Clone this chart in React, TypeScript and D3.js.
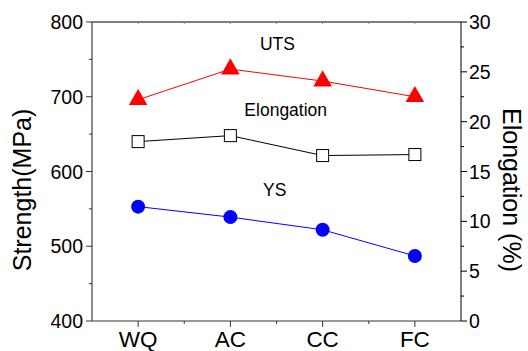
import React from "react";
import * as d3 from "d3";

const categories = ["WQ", "AC", "CC", "FC"];
const utsValues = [696, 737, 721, 700];
const ysValues = [553, 539, 522, 487];
const elongValues = [18.0, 18.6, 16.6, 16.7];
const leftTicks = [400, 500, 600, 700, 800];
const leftMinor = [450, 550, 650, 750];
const rightTicks = [0, 5, 10, 15, 20, 25, 30];
const rightMinor = [2.5, 7.5, 12.5, 17.5, 22.5, 27.5];
const seriesLabels = [
  { text: "UTS", x: 1.51, v: 762.5 },
  { text: "Elongation", x: 1.6, v: 674.5 },
  { text: "YS", x: 1.48, v: 567.5 },
];

const W = 528, H = 351;
const L = 92, R = 461, T = 22, B = 321;
const font = "Arial, 'Liberation Sans', Helvetica, sans-serif";

export default function App() {
  const x = d3.scaleLinear().domain([-0.5, 3.5]).range([L, R]);
  const yL = d3.scaleLinear().domain([400, 800]).range([B, T]);
  const yR = d3.scaleLinear().domain([0, 30]).range([B, T]);
  const line = (ys: number[], sc: d3.ScaleLinear<number, number>) =>
    d3.line<number>().x((_, i) => x(i)).y((d) => sc(d))(ys) || "";
  const tri = d3.symbol().type(d3.symbolTriangle).size(150)();
  const idx = categories.map((_, i) => i);
  const halves = [0.5, 1.5, 2.5];

  return (
    <svg width={W} height={H} style={{ position: "absolute", left: 0, top: 0 }} fontFamily={font}>
      <rect width={W} height={H} fill="#fff" />
      {/* axes */}
      <line x1={L} x2={R} y1={T} y2={T} stroke="#000" strokeWidth={1} />
      <line x1={L} x2={R} y1={B} y2={B} stroke="#333" strokeWidth={1} />
      <line x1={L} x2={L} y1={T} y2={B} stroke="#666" strokeWidth={1.5} />
      <line x1={R} x2={R} y1={T} y2={B} stroke="#000" strokeWidth={1} />
      {leftTicks.map((t) => (
        <g key={"l" + t}>
          <line x1={L - 6} x2={L} y1={yL(t)} y2={yL(t)} stroke="#333" />
          <text x={83} y={yL(t)} dy="0.36em" textAnchor="end" fontSize={19.5} fill="#000">{t}</text>
        </g>
      ))}
      {leftMinor.map((t) => (
        <line key={"lm" + t} x1={L - 3} x2={L} y1={yL(t)} y2={yL(t)} stroke="#333" />
      ))}
      {rightTicks.map((t) => (
        <g key={"r" + t}>
          <line x1={R} x2={R + 6} y1={yR(t)} y2={yR(t)} stroke="#000" />
          <text x={469} y={yR(t)} dy="0.36em" textAnchor="start" fontSize={19.5} fill="#000">{t}</text>
        </g>
      ))}
      {rightMinor.map((t) => (
        <line key={"rm" + t} x1={R} x2={R + 3} y1={yR(t)} y2={yR(t)} stroke="#000" />
      ))}
      {idx.map((i) => (
        <g key={"x" + i}>
          <line x1={x(i)} x2={x(i)} y1={B} y2={B + 6} stroke="#333" />
          <line x1={x(i)} x2={x(i)} y1={T} y2={T + 2} stroke="#888" />
          <text x={x(i)} y={347} textAnchor="middle" fontSize={22.5} fill="#000">{categories[i]}</text>
        </g>
      ))}
      {halves.map((h) => (
        <g key={"h" + h}>
          <line x1={x(h)} x2={x(h)} y1={B} y2={B + 3} stroke="#333" />
          <line x1={x(h)} x2={x(h)} y1={T} y2={T + 2} stroke="#888" />
        </g>
      ))}
      {/* axis titles */}
      <text transform={`translate(31,190) rotate(-90)`} textAnchor="middle" fontSize={25} fill="#000">Strength(MPa)</text>
      <text transform={`translate(503,190) rotate(90)`} textAnchor="middle" fontSize={25} fill="#000">Elongation (%)</text>
      {/* lines */}
      <path d={line(utsValues, yL)} fill="none" stroke="#ff0000" strokeWidth={1} />
      <path d={line(elongValues, yR)} fill="none" stroke="#000" strokeWidth={1} />
      <path d={line(ysValues, yL)} fill="none" stroke="#0000ff" strokeWidth={1} />
      {/* markers */}
      {utsValues.map((v, i) => (
        <path key={"u" + i} d={tri || ""} transform={`translate(${x(i)},${yL(v)})`} fill="#ff0000" />
      ))}
      {elongValues.map((v, i) => (
        <rect key={"e" + i} x={x(i) - 6} y={yR(v) - 6} width={12} height={12} fill="#fff" stroke="#000" strokeWidth={1} />
      ))}
      {ysValues.map((v, i) => (
        <circle key={"y" + i} cx={x(i)} cy={yL(v)} r={7} fill="#0000ff" />
      ))}
      {seriesLabels.map((s) => (
        <text key={s.text} x={x(s.x)} y={yL(s.v)} textAnchor="middle" fontSize={17.5} fill="#000">{s.text}</text>
      ))}
    </svg>
  );
}
